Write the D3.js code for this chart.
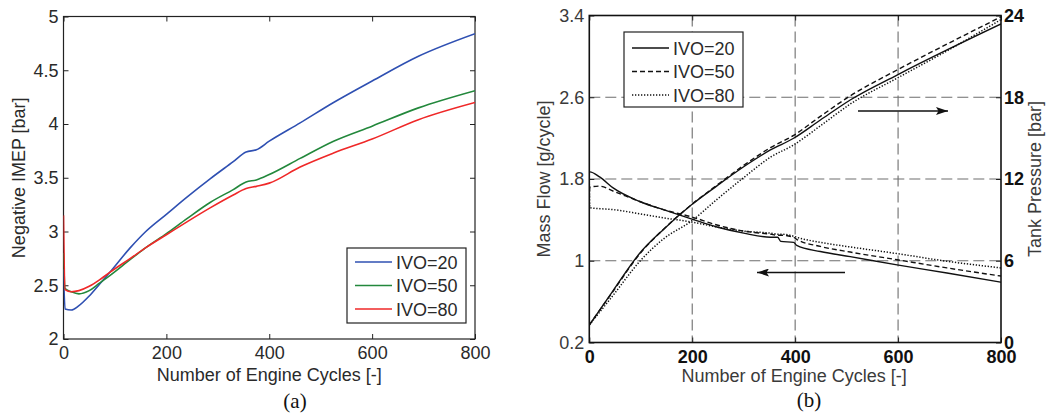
<!DOCTYPE html>
<html><head><meta charset="utf-8">
<script src="https://cdn.jsdelivr.net/npm/d3@7"></script>
<style>
body{margin:0;background:#fff;}
svg{display:block;font-family:"Liberation Sans",Arial,sans-serif;}
</style></head>
<body><svg id="c" width="1055" height="415"></svg>
<script>
// ---- Panel (a): Negative IMEP ----
const cyclesA = [0, 3, 15, 30, 50, 70, 90, 130, 160, 200, 240, 285, 330, 355, 375, 400, 460, 525, 600, 690, 800];
const imep20 = [2.65, 2.28, 2.27, 2.31, 2.40, 2.51, 2.62, 2.85, 3.00, 3.16, 3.32, 3.49, 3.65, 3.74, 3.76, 3.84, 4.01, 4.20, 4.40, 4.63, 4.84];
const imep50 = [2.80, 2.47, 2.44, 2.42, 2.45, 2.52, 2.59, 2.74, 2.85, 2.98, 3.12, 3.27, 3.39, 3.46, 3.48, 3.53, 3.68, 3.84, 3.98, 4.15, 4.31];
const imep80 = [3.15, 2.46, 2.44, 2.45, 2.49, 2.55, 2.62, 2.75, 2.85, 2.97, 3.09, 3.22, 3.34, 3.40, 3.42, 3.45, 3.60, 3.73, 3.86, 4.04, 4.20];
const seriesNames = ["IVO=20", "IVO=50", "IVO=80"];
const xTicks = [0, 200, 400, 600, 800];
const yTicksA = [2, 2.5, 3, 3.5, 4, 4.5, 5];

// ---- Panel (b): Mass flow & tank pressure ----
const cyclesP = [0, 47, 98, 144, 198, 248, 300, 352, 397, 449, 507, 598, 695, 800];
const press20 = [1.28, 3.85, 6.55, 8.30, 10.09, 11.50, 12.9, 14.13, 14.99, 16.33, 17.80, 19.63, 21.47, 23.38];
const press50 = [1.28, 3.80, 6.50, 8.30, 10.10, 11.55, 13.0, 14.30, 15.20, 16.60, 18.10, 20.00, 21.90, 23.90];
const press80 = [1.28, 3.50, 5.95, 7.60, 8.90, 10.50, 12.1, 13.60, 14.50, 15.90, 17.50, 19.40, 21.40, 23.70];
const cyclesM = [0, 1, 20, 47, 98, 144, 198, 248, 300, 352, 366, 372, 397, 403, 449, 507, 598, 695, 800];
const flow20 = [1.87, 1.87, 1.82, 1.71, 1.58, 1.50, 1.41, 1.33, 1.27, 1.23, 1.23, 1.19, 1.18, 1.15, 1.09, 1.04, 0.96, 0.88, 0.79];
const flow50 = [1.60, 1.72, 1.73, 1.68, 1.58, 1.50, 1.43, 1.35, 1.29, 1.26, 1.25, 1.25, 1.23, 1.21, 1.14, 1.085, 1.01, 0.93, 0.85];
const flow80 = [1.75, 1.52, 1.51, 1.50, 1.46, 1.42, 1.38, 1.33, 1.29, 1.27, 1.26, 1.26, 1.24, 1.23, 1.18, 1.135, 1.07, 0.995, 0.93];
const yTicksFlow = [0.2, 1, 1.8, 2.6, 3.4];
const yTicksPress = [0, 6, 12, 18, 24];

const svg = d3.select("#c");
const txt = "#2a2a2a";
const FS = 18;
const curve = d3.curveMonotoneX;

// ===== Panel A =====
const A = {l: 63.5, r: 475, t: 16.5, b: 339};
const xA = d3.scaleLinear().domain([0, 800]).range([A.l, A.r]);
const yA = d3.scaleLinear().domain([2, 5]).range([A.b, A.t]);
const gA = svg.append("g");
svg.append("clipPath").attr("id", "clipA").append("rect")
  .attr("x", A.l).attr("y", A.t).attr("width", A.r - A.l).attr("height", A.b - A.t);

function styleText(g) {
  g.select(".domain").remove();
  g.selectAll("text").attr("font-size", FS).attr("font-family", "Liberation Sans, Arial");
  g.selectAll("line").attr("stroke", "#222");
}

gA.append("g").attr("transform", `translate(0,${A.b})`)
  .call(d3.axisBottom(xA).tickValues(xTicks).tickSizeInner(-5).tickSizeOuter(0).tickPadding(7.5).tickFormat(d3.format("d")))
  .call(g => { styleText(g); g.selectAll("text").attr("fill", txt); });
gA.append("g").attr("transform", `translate(0,${A.t})`)
  .call(d3.axisTop(xA).tickValues(xTicks).tickSizeInner(-5).tickSizeOuter(0).tickFormat(""))
  .call(g => styleText(g));
gA.append("g").attr("transform", `translate(${A.l},0)`)
  .call(d3.axisLeft(yA).tickValues(yTicksA).tickSizeInner(-5).tickSizeOuter(0).tickPadding(5).tickFormat(d3.format("")))
  .call(g => { styleText(g); g.selectAll("text").attr("fill", txt); });
gA.append("g").attr("transform", `translate(${A.r},0)`)
  .call(d3.axisRight(yA).tickValues(yTicksA).tickSizeInner(-5).tickSizeOuter(0).tickFormat(""))
  .call(g => styleText(g));
gA.append("rect").attr("x", A.l).attr("y", A.t).attr("width", A.r - A.l).attr("height", A.b - A.t)
  .attr("fill", "none").attr("stroke", "#222").attr("stroke-width", 1.2);

const colorsA = ["#2f50b2", "#23883c", "#ef2828"];
const dataA = [imep20, imep50, imep80];
const lineA = d3.line().curve(curve).x((d, i) => xA(cyclesA[i])).y(d => yA(d));
dataA.forEach((s, k) => {
  gA.append("path").datum(s).attr("d", lineA).attr("fill", "none")
    .attr("stroke", colorsA[k]).attr("stroke-width", 1.6).attr("clip-path", "url(#clipA)");
});
// legend A
const LA = {x: 347, y: 248, w: 119, h: 75};
gA.append("rect").attr("x", LA.x).attr("y", LA.y).attr("width", LA.w).attr("height", LA.h)
  .attr("fill", "#fff").attr("stroke", "#222").attr("stroke-width", 1.2);
seriesNames.forEach((n, k) => {
  const yy = 262 + k * 23.5;
  gA.append("line").attr("x1", 355).attr("x2", 392).attr("y1", yy).attr("y2", yy)
    .attr("stroke", colorsA[k]).attr("stroke-width", 1.6);
  gA.append("text").attr("x", 396).attr("y", yy + 6.5).attr("font-size", FS).attr("fill", txt).text(n);
});
gA.append("text").attr("x", (A.l + A.r) / 2).attr("y", 380.5).attr("text-anchor", "middle")
  .attr("font-size", FS).attr("fill", txt).text("Number of Engine Cycles [-]");
gA.append("text").attr("transform", `translate(25,${(A.t + A.b) / 2}) rotate(-90)`).attr("text-anchor", "middle")
  .attr("font-size", FS).attr("fill", txt).text("Negative IMEP [bar]");
gA.append("text").attr("x", 295).attr("y", 408).attr("text-anchor", "middle")
  .attr("font-family", "Liberation Serif, Times New Roman, serif").attr("font-size", 21).attr("fill", "#111").text("(a)");

// ===== Panel B =====
const B = {l: 589.3, r: 1001, t: 15.5, b: 342.5};
const xB = d3.scaleLinear().domain([0, 800]).range([B.l, B.r]);
const yFlow = d3.scaleLinear().domain([0.2, 3.4]).range([B.b, B.t]);
const yPress = d3.scaleLinear().domain([0, 24]).range([B.b, B.t]);
const gB = svg.append("g");
svg.append("clipPath").attr("id", "clipB").append("rect")
  .attr("x", B.l).attr("y", B.t).attr("width", B.r - B.l).attr("height", B.b - B.t);

// grid
gB.append("g").selectAll("line").data(xTicks.slice(1, -1)).join("line")
  .attr("x1", d => xB(d)).attr("x2", d => xB(d)).attr("y1", B.t).attr("y2", B.b)
  .attr("stroke", "#6e6e6e").attr("stroke-width", 1.1).attr("stroke-dasharray", "11,5");
gB.append("g").selectAll("line").data(yTicksFlow.slice(1, -1)).join("line")
  .attr("x1", B.l).attr("x2", B.r).attr("y1", d => yFlow(d)).attr("y2", d => yFlow(d))
  .attr("stroke", "#6e6e6e").attr("stroke-width", 1.1).attr("stroke-dasharray", "11,5");

gB.append("g").attr("transform", `translate(0,${B.b})`)
  .call(d3.axisBottom(xB).tickValues(xTicks).tickSizeInner(-5).tickSizeOuter(0).tickPadding(8).tickFormat(d3.format("d")))
  .call(g => { styleText(g); g.selectAll("text").attr("font-weight", "bold").attr("fill", "#111"); });
gB.append("g").attr("transform", `translate(0,${B.t})`)
  .call(d3.axisTop(xB).tickValues(xTicks).tickSizeInner(-5).tickSizeOuter(0).tickFormat(""))
  .call(g => styleText(g));
gB.append("g").attr("transform", `translate(${B.l},0)`)
  .call(d3.axisLeft(yFlow).tickValues(yTicksFlow).tickSizeInner(-5).tickSizeOuter(0).tickPadding(5).tickFormat(d3.format("")))
  .call(g => { styleText(g); g.selectAll("text").attr("fill", "#3a3a3a"); });
gB.append("g").attr("transform", `translate(${B.r},0)`)
  .call(d3.axisRight(yPress).tickValues(yTicksPress).tickSizeInner(-5).tickSizeOuter(0).tickPadding(3).tickFormat(d3.format("d")))
  .call(g => { styleText(g); g.selectAll("text").attr("font-weight", "bold").attr("fill", "#111"); });
gB.append("rect").attr("x", B.l).attr("y", B.t).attr("width", B.r - B.l).attr("height", B.b - B.t)
  .attr("fill", "none").attr("stroke", "#111").attr("stroke-width", 1.6);

const dashes = [null, "5,3", "1.3,1.7"];
const lineP = d3.line().curve(curve).x((d, i) => xB(cyclesP[i])).y(d => yPress(d));
const lineM = d3.line().curve(curve).x((d, i) => xB(cyclesM[i])).y(d => yFlow(d));
[press20, press50, press80].forEach((s, k) => {
  gB.append("path").datum(s).attr("d", lineP).attr("fill", "none").attr("stroke", "#111")
    .attr("stroke-width", k === 2 ? 1.5 : 1.4).attr("stroke-dasharray", dashes[k]).attr("clip-path", "url(#clipB)");
});
[flow20, flow50, flow80].forEach((s, k) => {
  gB.append("path").datum(s).attr("d", lineM).attr("fill", "none").attr("stroke", "#111")
    .attr("stroke-width", k === 2 ? 1.5 : 1.4).attr("stroke-dasharray", dashes[k]).attr("clip-path", "url(#clipB)");
});

// legend B
const LB = {x: 624, y: 32, w: 119, h: 75};
gB.append("rect").attr("x", LB.x).attr("y", LB.y).attr("width", LB.w).attr("height", LB.h)
  .attr("fill", "#fff").attr("stroke", "#222").attr("stroke-width", 1.2);
seriesNames.forEach((n, k) => {
  const yy = 48 + k * 23.5;
  gB.append("line").attr("x1", 632).attr("x2", 669).attr("y1", yy).attr("y2", yy)
    .attr("stroke", "#111").attr("stroke-width", 1.4).attr("stroke-dasharray", dashes[k]);
  gB.append("text").attr("x", 673).attr("y", yy + 6.5).attr("font-size", FS).attr("fill", txt).text(n);
});

// arrows
const defs = svg.append("defs");
defs.append("marker").attr("id", "arr").attr("viewBox", "0 0 12 8").attr("refX", 12).attr("refY", 4)
  .attr("markerWidth", 12).attr("markerHeight", 8).attr("markerUnits", "userSpaceOnUse").attr("orient", "auto")
  .append("path").attr("d", "M0,0 L12,4 L0,8 L2.5,4 Z").attr("fill", "#111");
gB.append("line").attr("x1", 858).attr("x2", 948).attr("y1", 111).attr("y2", 111)
  .attr("stroke", "#111").attr("stroke-width", 1.6).attr("marker-end", "url(#arr)");
gB.append("line").attr("x1", 845).attr("x2", 757).attr("y1", 272.5).attr("y2", 272.5)
  .attr("stroke", "#111").attr("stroke-width", 1.6).attr("marker-end", "url(#arr)");

gB.append("text").attr("x", (B.l + B.r) / 2 - 1).attr("y", 382).attr("text-anchor", "middle")
  .attr("font-size", FS).attr("fill", "#3a3a3a").text("Number of Engine Cycles [-]");
gB.append("text").attr("transform", `translate(550,${(B.t + B.b) / 2}) rotate(-90)`).attr("text-anchor", "middle")
  .attr("font-size", FS).attr("fill", "#3a3a3a").text("Mass Flow [g/cycle]");
gB.append("text").attr("transform", `translate(1041,${(B.t + B.b) / 2}) rotate(-90)`).attr("text-anchor", "middle")
  .attr("font-size", FS).attr("fill", "#3a3a3a").text("Tank Pressure [bar]");
gB.append("text").attr("x", 809).attr("y", 407).attr("text-anchor", "middle")
  .attr("font-family", "Liberation Serif, Times New Roman, serif").attr("font-size", 21).attr("fill", "#111").text("(b)");
</script></body></html>
